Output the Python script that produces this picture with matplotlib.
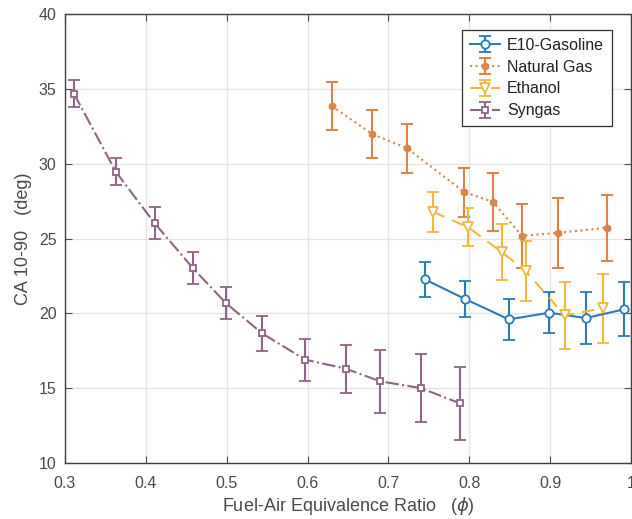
import numpy as np
import matplotlib
matplotlib.use("Agg")
import matplotlib.pyplot as plt

# --------------------------------------------------------------
# Data
# --------------------------------------------------------------
phi_gas = [0.745, 0.795, 0.849, 0.899, 0.944, 0.991]
ca_gas = [22.28, 20.96, 19.60, 20.05, 19.69, 20.27]
err_gas = [1.18, 1.20, 1.38, 1.35, 1.72, 1.80]

phi_ng = [0.630, 0.680, 0.723, 0.794, 0.829, 0.865, 0.910, 0.970]
ca_ng = [33.87, 31.99, 31.05, 28.10, 27.47, 25.19, 25.39, 25.73]
err_ng = [1.58, 1.60, 1.64, 1.63, 1.93, 2.13, 2.35, 2.20]

phi_eth = [0.755, 0.799, 0.840, 0.870, 0.918, 0.965]
ca_eth = [26.80, 25.75, 24.11, 22.82, 19.87, 20.34]
err_eth = [1.34, 1.27, 1.85, 2.00, 2.24, 2.30]

phi_syn = [0.311, 0.363, 0.411, 0.458, 0.499, 0.544, 0.597, 0.647, 0.690, 0.740, 0.789]
ca_syn = [34.70, 29.46, 26.02, 23.04, 20.69, 18.66, 16.91, 16.31, 15.46, 15.01, 13.98]
err_syn = [0.90, 0.90, 1.07, 1.10, 1.08, 1.20, 1.40, 1.60, 2.10, 2.25, 2.45]

x_ticks = [0.3, 0.4, 0.5, 0.6, 0.7, 0.8, 0.9, 1.0]
x_tick_labels = ["0.3", "0.4", "0.5", "0.6", "0.7", "0.8", "0.9", "1"]
y_ticks = [10, 15, 20, 25, 30, 35, 40]

# --------------------------------------------------------------
# Style
# --------------------------------------------------------------
plt.rcParams["font.family"] = ["Liberation Sans", "DejaVu Sans"]
plt.rcParams["mathtext.fontset"] = "dejavusans"
txt_col = "#4a4a4a"

c_blue = "#2b7bb5"
c_orange = "#dd8449"
c_yellow = "#f2b83c"
c_purple = "#8d6585"

fig = plt.figure(figsize=(6.32, 5.19), dpi=100)
ax = fig.add_axes([65 / 632, 1 - 463 / 519, 566 / 632, (463 - 14.3) / 519])

common = dict(capsize=4, elinewidth=1.5, capthick=1.5, linewidth=1.5)

ax.errorbar(phi_gas, ca_gas, yerr=err_gas, color=c_blue, linestyle="-",
            marker="o", markersize=6, markerfacecolor="white",
            markeredgewidth=1.3, label="E10-Gasoline", **common)
ax.errorbar(phi_ng, ca_ng, yerr=err_ng, color=c_orange, linestyle=":",
            marker="h", markersize=5, markerfacecolor=c_orange,
            label="Natural Gas", **common)
ax.errorbar(phi_eth, ca_eth, yerr=err_eth, color=c_yellow, linestyle=(0, (6, 4)),
            marker="v", markersize=7, markerfacecolor="white",
            markeredgewidth=1.3, label="Ethanol", **common)
ax.errorbar(phi_syn, ca_syn, yerr=err_syn, color=c_purple, linestyle="-.",
            marker="s", markersize=5, markerfacecolor="white",
            markeredgewidth=1.3, label="Syngas", **common)

ax.set_xlim(0.3, 1.0)
ax.set_ylim(10, 40)
ax.set_xticks(x_ticks)
ax.set_xticklabels(x_tick_labels)
ax.set_yticks(y_ticks)

ax.grid(True, color="#e3e3e3", linewidth=0.9)
ax.set_axisbelow(True)
ax.tick_params(direction="in", top=True, right=True, length=5,
               labelsize=11.5, colors=txt_col)
ax.tick_params(axis="x", pad=9)
ax.tick_params(axis="y", pad=6)
for sp in ax.spines.values():
    sp.set_color("#404040")
    sp.set_linewidth(1.0)

ax.set_xlabel(r"Fuel-Air Equivalence Ratio   ($\phi$)", fontsize=13,
              color=txt_col, labelpad=3)
ax.set_ylabel("CA 10-90   (deg)", fontsize=13, color=txt_col, labelpad=5)

leg = ax.legend(loc="upper right", bbox_to_anchor=(0.966, 0.965), fontsize=11.5,
                fancybox=False, framealpha=1, edgecolor="#303030",
                borderaxespad=0, handlelength=1.9, borderpad=0.5,
                labelspacing=0.42, handletextpad=0.4)
leg.get_frame().set_linewidth(0.9)
for t in leg.get_texts():
    t.set_color("#222222")

fig.savefig("out.png", dpi=100)
